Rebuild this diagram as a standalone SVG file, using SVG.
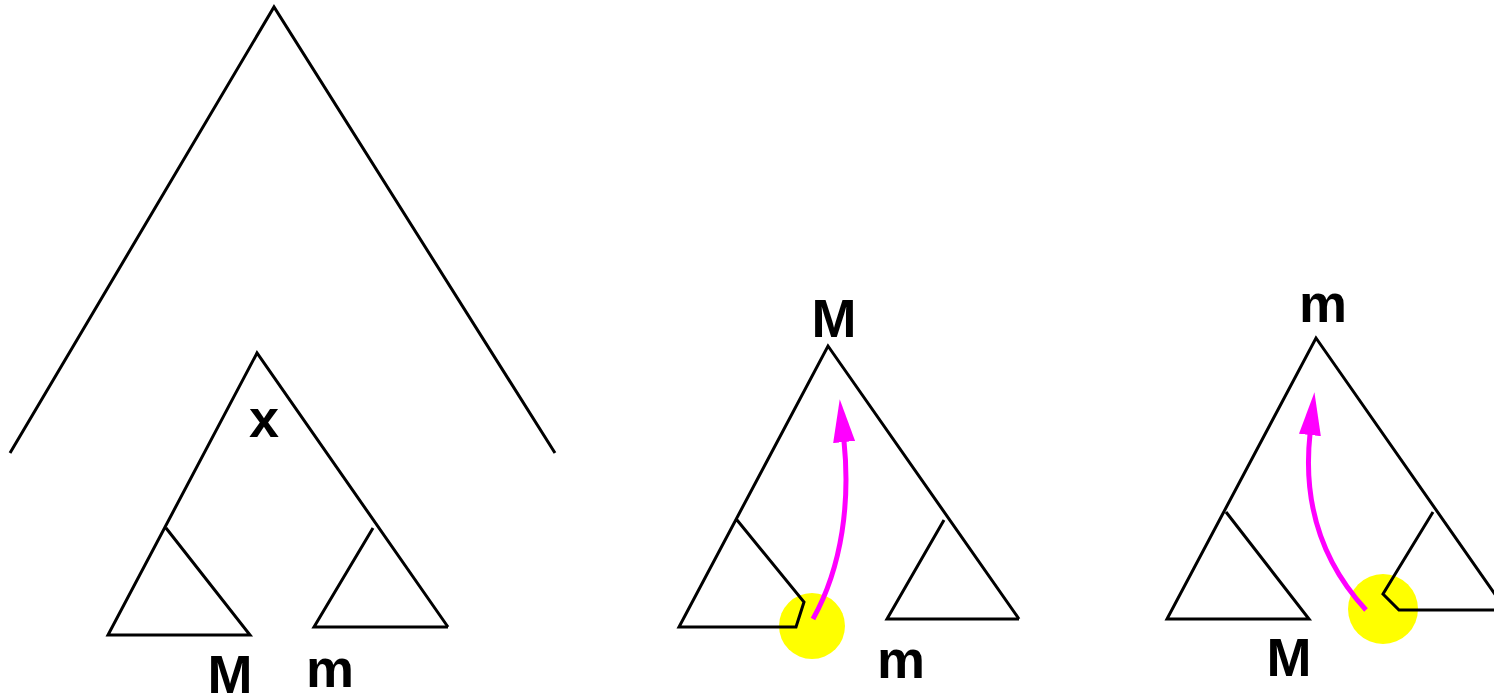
<svg xmlns="http://www.w3.org/2000/svg" width="1494" height="697" viewBox="0 0 1494 697">
<style>
.ln{fill:none;stroke:#000;stroke-width:3;stroke-linejoin:miter}
.lbl{font-family:"Liberation Sans",Arial,sans-serif;font-weight:bold;font-size:54px;fill:#000;text-anchor:middle}
.hl{fill:#ffff00}
.arr{fill:none;stroke:#ff00ff;stroke-width:5;marker-end:url(#ah)}
</style>
<defs>
<marker id="ah" markerUnits="userSpaceOnUse" viewBox="0 0 43 22" markerWidth="43" markerHeight="22" refX="1" refY="11" orient="auto">
<path d="M0,0 L43,11 L0,22 z" fill="#ff00ff"/>
</marker>
</defs>
<rect width="1494" height="697" fill="#fff"/>
<g id="highlights">
<circle class="hl" cx="812" cy="626" r="33"/>
<circle class="hl" cx="1383" cy="609" r="35"/>
</g>
<g id="outer-tree">
<polyline class="ln" points="10,453 274,7 555,453"/>
</g>
<g id="tree-x">
<polyline class="ln" points="448,627 257,353 108,635 250,635 166,528"/>
<polyline class="ln" points="373,528 314,627 448,627"/>
<text class="lbl" x="264" y="437">x</text>
<text class="lbl" x="230" y="693">M</text>
<text class="lbl" x="330" y="687">m</text>
</g>
<g id="tree-M">
<polyline class="ln" points="1019,619 828,346 679,627 796,627 804,602 737,520"/>
<polyline class="ln" points="944,520 887,619 1019,619"/>
<text class="lbl" x="834" y="337">M</text>
<text class="lbl" x="901" y="678">m</text>
</g>
<g id="tree-m">
<polyline class="ln" points="1506,610 1316,338 1167,619 1309,619 1226,512"/>
<polyline class="ln" points="1433,512 1383,594 1399,610 1506,610"/>
<text class="lbl" x="1323" y="322">m</text>
<text class="lbl" x="1289" y="676">M</text>
</g>
<g id="connectors">
<path class="arr" d="M813,619 C843,565 850,500 844,441"/>
<path class="arr" d="M1366,610 C1320,560 1303,500 1310,434"/>
</g>
</svg>
